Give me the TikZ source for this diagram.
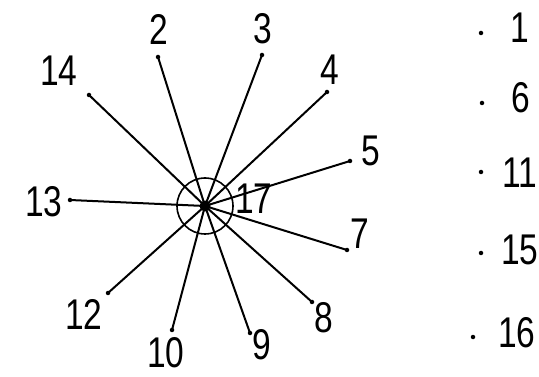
\documentclass[tikz,border=0pt]{standalone}
\usepackage{fontspec}
\setmainfont{Liberation Sans}
\begin{document}
\begin{tikzpicture}[x=1pt,y=-1pt,
  lbl/.style={inner sep=0pt,font=\fontsize{43}{43}\selectfont},
  tip/.style={circle,fill=black,inner sep=0pt,minimum size=4.5pt},
  spoke/.style={line width=2pt,black},
  ring/.style={circle,draw=black,line width=1.6pt,minimum size=56pt,inner sep=0pt}]
\useasboundingbox (0,0) rectangle (539,377);
\node[ring] (ring) at (205,206) {};
\node[circle,fill=black,inner sep=0pt,minimum size=11pt] (c) at (205,206) {};
% endpoints
\node[tip] (e2) at (158,57) {};
\node[tip] (e3) at (262,55) {};
\node[tip] (e14) at (89,95) {};
\node[tip] (e4) at (327,92) {};
\node[tip] (e5) at (350,161) {};
\node[tip] (e7) at (347,250) {};
\node[tip] (e8) at (312,302) {};
\node[tip] (e9) at (250,333) {};
\node[tip] (e10) at (172,330) {};
\node[tip] (e12) at (108,293) {};
\node[tip] (e13) at (70,200) {};
\foreach \e in {e2,e3,e14,e4,e5,e7,e8,e9,e10,e12,e13}
  \draw[spoke] (c.center) -- (\e.center);
% labels
\node[lbl] (l2) at (159,29) {\scalebox{0.78}[1]{2}};
\node[lbl] (l3) at (263,29) {\scalebox{0.78}[1]{3}};
\node[lbl] (l14) at (59,71) {\scalebox{0.78}[1]{14}};
\node[lbl] (l4) at (330,70) {\scalebox{0.78}[1]{4}};
\node[lbl] (l5) at (371,151) {\scalebox{0.78}[1]{5}};
\node[lbl] (l17) at (254,199) {\scalebox{0.78}[1]{17}};
\node[lbl] (l7) at (360,234) {\scalebox{0.78}[1]{7}};
\node[lbl] (l8) at (324,318) {\scalebox{0.78}[1]{8}};
\node[lbl] (l9) at (262,345) {\scalebox{0.78}[1]{9}};
\node[lbl] (l10) at (166,353) {\scalebox{0.78}[1]{10}};
\node[lbl] (l12) at (84,314) {\scalebox{0.78}[1]{12}};
\node[lbl] (l13) at (44,202) {\scalebox{0.78}[1]{13}};
% isolated vertices
\node[tip] (d1) at (481,33) {};
\node[tip] (d6) at (482,103) {};
\node[tip] (d11) at (481,172) {};
\node[tip] (d15) at (481,253) {};
\node[tip] (d16) at (473,337) {};
\node[lbl] (l1) at (520,28) {\scalebox{0.78}[1]{1}};
\node[lbl] (l6) at (521,98) {\scalebox{0.78}[1]{6}};
\node[lbl] (l11) at (520,173) {\scalebox{0.78}[1]{11}};
\node[lbl] (l15) at (520,250) {\scalebox{0.78}[1]{15}};
\node[lbl] (l16) at (517,333) {\scalebox{0.78}[1]{16}};
\end{tikzpicture}
\end{document}
